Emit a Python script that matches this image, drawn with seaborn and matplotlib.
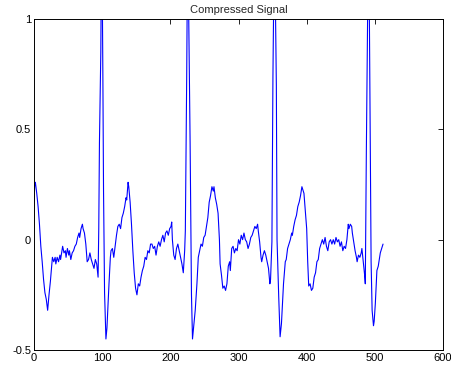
import numpy as np
import pandas as pd
import seaborn as sns
import matplotlib
matplotlib.use("Agg")
import matplotlib.pyplot as plt
from matplotlib.ticker import FuncFormatter

# samples (sample index, amplitude)
sample_idx = [0, 1, 2, 4, 6, 8, 10, 12, 14, 16, 18, 20, 22, 24, 26, 27, 29, 31, 32, 34,
              36, 38, 39, 41, 42, 44, 46, 47, 49, 51, 52, 54, 56, 58, 60, 62, 64, 66, 67, 69,
              71, 72, 74, 76, 78, 80, 82, 84, 86, 88, 90, 92, 94, 95, 96, 98, 99, 100, 101, 102,
              103.5, 105.5, 107, 108, 110, 112, 113, 115, 117, 119, 121, 123, 125, 127, 129, 131, 133, 135, 136, 138,
              139, 141, 143, 145, 147, 149, 151, 153, 155, 157, 159, 161, 163, 165, 167, 169, 171, 173, 175, 177,
              179, 181, 183, 185, 187, 189, 191, 193, 195, 197, 199, 201, 202, 203, 205, 207, 209, 211, 213, 215,
              217, 219, 221, 222, 224, 225, 226, 227, 229, 231, 232.5, 234, 236.5, 239, 241, 243, 245, 247, 249, 251,
              253, 255, 257, 259, 261, 263, 264, 266, 268, 270, 272, 273, 275, 277, 279, 281, 283, 285, 287, 288,
              290, 292, 294, 296, 298, 300, 302, 304, 306, 308, 310, 312, 314, 316, 318, 320, 322, 324, 326, 328,
              329, 331, 333, 334, 336, 338, 340, 342, 344, 346, 347, 349, 350.5, 352, 353, 354, 355.5, 356.5, 359, 361,
              363, 364, 366, 368.6, 370, 372, 374, 376, 378, 379, 381, 383, 385, 387, 389, 391, 393, 394, 396, 398,
              400, 401.5, 403, 405, 407, 409, 411, 413, 415, 417, 419, 421, 423, 425, 427, 429, 431, 433, 435, 437,
              439, 441, 443, 445, 447, 449, 451, 453, 455, 457, 459, 461, 462, 464, 466, 467, 469, 471, 473, 474,
              476, 478, 480, 481, 483, 485, 486, 487.5, 489, 490, 491, 492, 493.4, 494.5, 496, 498, 499, 500.7, 502, 503,
              505, 506, 508, 510, 512]
amplitude = [0.17, 0.25, 0.26, 0.21, 0.15, 0.07, -0.03, -0.1, -0.18, -0.24, -0.27, -0.32, -0.25, -0.19, -0.12, -0.08, -0.1, -0.08, -0.11, -0.08,
             -0.1, -0.07, -0.09, -0.05, -0.03, -0.06, -0.05, -0.08, -0.04, -0.07, -0.05, -0.09, -0.06, -0.05, -0.03, -0.02, 0.01, 0.03, 0.01, 0.05,
             0.07, 0.05, 0.03, -0.02, -0.1, -0.09, -0.06, -0.09, -0.11, -0.13, -0.09, -0.11, -0.17, 0.05, 0.44, 0.85, 1.3, 1.2, 0.75, 0.22,
             -0.24, -0.45, -0.4, -0.33, -0.2, -0.08, -0.05, -0.04, -0.08, -0.03, 0.02, 0.06, 0.07, 0.05, 0.1, 0.12, 0.15, 0.19, 0.18, 0.26,
             0.24, 0.17, 0.07, -0.05, -0.15, -0.22, -0.25, -0.2, -0.21, -0.17, -0.14, -0.12, -0.08, -0.09, -0.05, -0.06, -0.02, -0.02, -0.04, -0.03,
             -0.07, -0.03, -0.01, -0.03, 0.0, 0.02, -0.01, 0.03, 0.04, 0.02, 0.05, 0.06, 0.08, 0.0, -0.07, -0.09, -0.04, -0.02, -0.05, -0.08,
             -0.11, -0.15, -0.05, 0.04, 0.74, 1.2, 1.25, 1.0, 0.44, -0.25, -0.45, -0.4, -0.32, -0.2, -0.08, -0.05, -0.02, -0.03, 0.01, 0.02,
             0.06, 0.1, 0.17, 0.2, 0.24, 0.22, 0.24, 0.19, 0.16, 0.12, 0.0, -0.11, -0.16, -0.22, -0.21, -0.23, -0.2, -0.12, -0.1, -0.14,
             -0.04, -0.03, -0.06, -0.04, -0.05, 0.0, -0.02, 0.02, 0.0, 0.03, 0.0, -0.01, -0.04, -0.02, 0.01, 0.02, 0.04, 0.06, 0.05, 0.07,
             0.04, -0.01, -0.08, -0.1, -0.07, -0.05, -0.07, -0.1, -0.13, -0.2, -0.18, -0.01, 0.74, 1.2, 1.3, 1.1, 0.7, 0.0, -0.26, -0.44,
             -0.38, -0.32, -0.2, -0.1, -0.09, -0.04, -0.02, 0.0, 0.03, 0.02, 0.06, 0.09, 0.11, 0.15, 0.17, 0.2, 0.24, 0.23, 0.21, 0.13,
             0.05, -0.1, -0.21, -0.2, -0.23, -0.22, -0.17, -0.15, -0.1, -0.09, -0.04, -0.02, 0.0, -0.02, 0.01, -0.03, -0.05, -0.01, 0.0, -0.02,
             0.0, -0.02, 0.01, -0.01, 0.0, -0.03, -0.01, -0.05, -0.03, -0.04, 0.0, 0.07, 0.05, 0.07, 0.06, 0.03, -0.01, -0.05, -0.08, -0.1,
             -0.07, -0.08, -0.06, -0.04, -0.1, -0.16, -0.2, 0.39, 0.9, 1.2, 1.25, 1.0, 0.39, -0.1, -0.32, -0.39, -0.37, -0.29, -0.2, -0.14,
             -0.12, -0.1, -0.06, -0.04, -0.02]

x_ticks = [0, 100, 200, 300, 400, 500, 600]
y_ticks = [-0.5, 0, 0.5, 1]

df = pd.DataFrame({"n": sample_idx, "v": amplitude})

sns.set_style("white")
plt.rcParams['font.family'] = ['Liberation Sans', 'DejaVu Sans']
plt.rcParams['axes.unicode_minus'] = False

fig = plt.figure(figsize=(4.51, 3.68), dpi=100)
ax = fig.add_axes([0.0754, 0.0489, 0.9069, 0.8995])

sns.lineplot(data=df, x="n", y="v", ax=ax, color=(0, 0, 1), linewidth=0.8, sort=False, estimator=None)

ax.set_xlim(0, 600)
ax.set_ylim(-0.5, 1)
ax.set_xticks(x_ticks)
ax.set_yticks(y_ticks)
ax.xaxis.set_major_formatter(FuncFormatter(lambda v, p: "%g" % v))
ax.yaxis.set_major_formatter(FuncFormatter(lambda v, p: "%g" % v))
ax.tick_params(direction='in', top=True, right=True, length=3.5, width=0.6,
               labelsize=8, colors='black', pad=2)
ax.set_xlabel("")
ax.set_ylabel("")
for s in ax.spines.values():
    s.set_color('black')
    s.set_linewidth(0.7)
ax.set_title("Compressed Signal", fontsize=8, pad=4)

fig.savefig("out.png", dpi=100)
